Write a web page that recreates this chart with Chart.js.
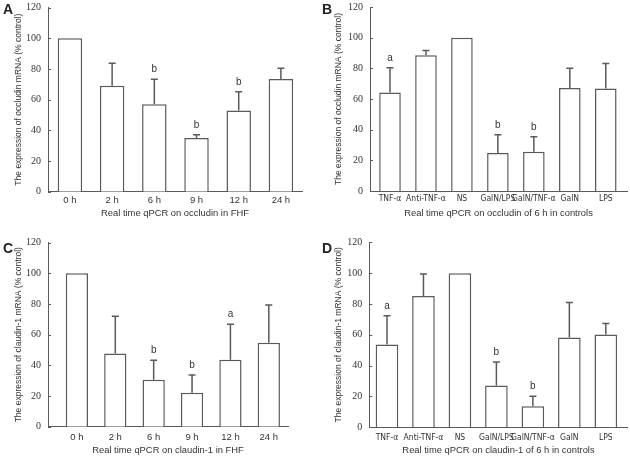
<!DOCTYPE html>
<html lang="en">
<head>
    <meta charset="UTF-8">
    <title>Occludin and claudin-1 mRNA expression</title>
    <script src="https://cdn.jsdelivr.net/npm/chart.js"></script>
    <style>
        body {
            margin: 0;
            padding: 0;
            background: #fff;
            width: 630px;
            height: 459px;
            position: relative;
            overflow: hidden;
        }

        .panel {
            position: absolute;
        }

        .letter {
            position: absolute;
            font-family: "Liberation Sans", Arial, sans-serif;
            font-weight: bold;
            font-size: 14px;
            color: #222;
        }
    </style>
</head>
<body>
    <div class="panel" style="left:0;top:0;width:315px;height:229px"><canvas id="chartA"></canvas></div>
    <div class="panel" style="left:315px;top:0;width:315px;height:229px"><canvas id="chartB"></canvas></div>
    <div class="panel" style="left:0;top:229px;width:315px;height:230px"><canvas id="chartC"></canvas></div>
    <div class="panel" style="left:315px;top:229px;width:315px;height:230px"><canvas id="chartD"></canvas></div>
    <div class="letter" style="left:3px;top:1px">A</div>
    <div class="letter" style="left:322px;top:1px">B</div>
    <div class="letter" style="left:3px;top:240px">C</div>
    <div class="letter" style="left:322px;top:240px">D</div>

    <script>
        // categories
        const timePoints = ['0 h', '2 h', '6 h', '9 h', '12 h', '24 h'];
        const treatments = ['TNF-\u03b1', 'Anti-TNF-\u03b1', 'NS', 'GalN/LPS', 'GalN/TNF-\u03b1', 'GalN', 'LPS'];
        const yTicks = [0, 20, 40, 60, 80, 100, 120];

        // A: occludin in FHF
        const occludinFHF = [100, 69, 57, 35, 53, 73.5];
        const occludinFHFErr = [0, 14.7, 16.3, 2.2, 12.2, 6.9];
        const occludinFHFSig = ['', '', 'b', 'b', 'b', ''];

        // B: occludin of 6 h in controls
        const occludinCtrl = [64.3, 88.6, 100, 24.8, 25.6, 67.1, 66.9];
        const occludinCtrlErr = [16, 3, 0, 11.9, 9.8, 13, 16.3];
        const occludinCtrlSig = ['a', '', '', 'b', 'b', '', ''];

        // C: claudin-1 in FHF
        const claudinFHF = [100, 47.8, 30.6, 22.2, 43.7, 54.8];
        const claudinFHFErr = [0, 24.2, 12.7, 11.5, 23.1, 24.5];
        const claudinFHFSig = ['', '', 'b', 'b', 'a', ''];

        // D: claudin-1 of 6 h in controls
        const claudinCtrl = [53.7, 85.2, 100, 27.1, 13.7, 58.3, 60.2];
        const claudinCtrlErr = [18.7, 14.3, 0, 15.3, 6.5, 22.6, 7.2];
        const claudinCtrlSig = ['a', '', '', 'b', 'b', '', ''];

        const sans = '"Liberation Sans", Arial, sans-serif';
        const narrow = '"Liberation Sans Narrow", "DejaVu Sans Condensed", Arial, sans-serif';
        const serif = '"Liberation Serif", "Times New Roman", serif';
        const lineCol = '#5a5a5a';
        const textCol = '#333';

        // error bars, significance letters and inward y ticks
        const extrasPlugin = {
            id: 'extras',
            afterDatasetsDraw(chart) {
                const ctx = chart.ctx;
                const y = chart.scales.y;
                const ds = chart.data.datasets[0];
                const meta = chart.getDatasetMeta(0);
                ctx.save();
                ctx.strokeStyle = lineCol;
                ctx.lineWidth = 1.5;
                meta.data.forEach((bar, i) => {
                    const err = ds.errors[i];
                    const topY = y.getPixelForValue(ds.data[i].y + err);
                    if (err > 0) {
                        ctx.beginPath();
                        ctx.moveTo(bar.x, bar.y);
                        ctx.lineTo(bar.x, topY);
                        ctx.moveTo(bar.x - 3.5, topY);
                        ctx.lineTo(bar.x + 3.5, topY);
                        ctx.stroke();
                    }
                    if (ds.sig[i]) {
                        ctx.fillStyle = textCol;
                        ctx.font = '10px ' + sans;
                        ctx.textAlign = 'center';
                        ctx.textBaseline = 'alphabetic';
                        ctx.fillText(ds.sig[i], bar.x, topY - 7);
                    }
                });
                ctx.lineWidth = 1;
                ctx.beginPath();
                y.ticks.forEach(t => {
                    const py = Math.round(y.getPixelForValue(t.value)) + 0.5;
                    ctx.moveTo(y.right, py);
                    ctx.lineTo(y.right + 3, py);
                });
                ctx.stroke();
                ctx.restore();
            }
        };

        function makeChart(id, cats, values, errs, sigs, yTitle, xTitle, lay) {
            const ctx = document.getElementById(id).getContext('2d');
            return new Chart(ctx, {
                type: 'bar',
                data: {
                    datasets: [{
                        data: values.map((v, i) => ({ x: i, y: v })),
                        errors: errs,
                        sig: sigs,
                        backgroundColor: '#fff',
                        borderColor: lineCol,
                        borderWidth: 1.5,
                        barPercentage: 1,
                        categoryPercentage: lay.barPct
                    }]
                },
                options: {
                    responsive: true,
                    maintainAspectRatio: false,
                    animation: false,
                    layout: {
                        padding: { top: lay.top, right: lay.right, left: 0, bottom: 0 }
                    },
                    plugins: {
                        legend: { display: false },
                        tooltip: { enabled: false }
                    },
                    scales: {
                        x: {
                            type: 'linear',
                            offset: false,
                            min: lay.xmin,
                            max: lay.xmax,
                            afterFit: s => { s.height = lay.xHeight; },
                            afterBuildTicks: s => { s.ticks = cats.map((c, i) => ({ value: i })); },
                            grid: { display: false, tickLength: lay.tickPad },
                            border: { display: true, color: lineCol, width: 1 },
                            ticks: {
                                autoSkip: false,
                                maxRotation: 0,
                                padding: 0,
                                color: textCol,
                                font: lay.catFont,
                                callback: v => cats[v]
                            },
                            title: {
                                display: true,
                                text: xTitle,
                                color: textCol,
                                font: { family: sans, size: 9.4 },
                                padding: { top: 0, bottom: lay.xTitlePad }
                            }
                        },
                        y: {
                            min: 0,
                            max: 120,
                            afterFit: s => { s.width = lay.yWidth; },
                            afterBuildTicks: s => { s.ticks = yTicks.map(v => ({ value: v })); },
                            grid: { display: false, tickLength: 7 },
                            border: { display: true, color: lineCol, width: 1 },
                            ticks: {
                                padding: 0,
                                color: textCol,
                                font: { family: serif, size: 10 }
                            },
                            title: {
                                display: true,
                                text: yTitle,
                                color: textCol,
                                font: { family: sans, size: 8.5 },
                                padding: { top: lay.yTitlePad, bottom: 0 }
                            }
                        }
                    }
                },
                plugins: [extrasPlugin]
            });
        }

        const timeFont = { family: sans, size: 9.5 };
        const groupFont = { family: narrow, size: 8.5 };

        makeChart('chartA', timePoints, occludinFHF, occludinFHFErr, occludinFHFSig,
            'The expression of occludin mRNA (% control)', 'Real time qPCR on occludin in FHF',
            { top: 7.6, right: 13, yWidth: 48, xHeight: 37.3, xmin: -0.52, xmax: 5.5, barPct: 0.58, tickPad: 3, xTitlePad: 10, yTitlePad: 14, catFont: timeFont });

        makeChart('chartB', treatments, occludinCtrl, occludinCtrlErr, occludinCtrlSig,
            'The expression of occludin mRNA (% control)', 'Real time qPCR on occludin of 6 h in controls',
            { top: 7, right: 3, yWidth: 55, xHeight: 38, xmin: -0.556, xmax: 6.59, barPct: 0.6, tickPad: 3, xTitlePad: 10, yTitlePad: 19, catFont: groupFont });

        makeChart('chartC', timePoints, claudinFHF, claudinFHFErr, claudinFHFSig,
            'The expression of claudin-1 mRNA (% control)', 'Real time qPCR on claudin-1 in FHF',
            { top: 13.7, right: 27, yWidth: 48, xHeight: 32.3, xmin: -0.753, xmax: 5.5, barPct: 0.58, tickPad: 5, xTitlePad: 2.5, yTitlePad: 13.5, catFont: timeFont });

        makeChart('chartD', treatments, claudinCtrl, claudinCtrlErr, claudinCtrlSig,
            'The expression of claudin-1 mRNA (% control)', 'Real time qPCR on claudin-1 of 6 h in controls',
            { top: 13.3, right: 2.3, yWidth: 54.3, xHeight: 31.7, xmin: -0.485, xmax: 6.6, barPct: 0.62, tickPad: 5, xTitlePad: 2.5, yTitlePad: 18.5, catFont: groupFont });
    </script>
</body>
</html>
